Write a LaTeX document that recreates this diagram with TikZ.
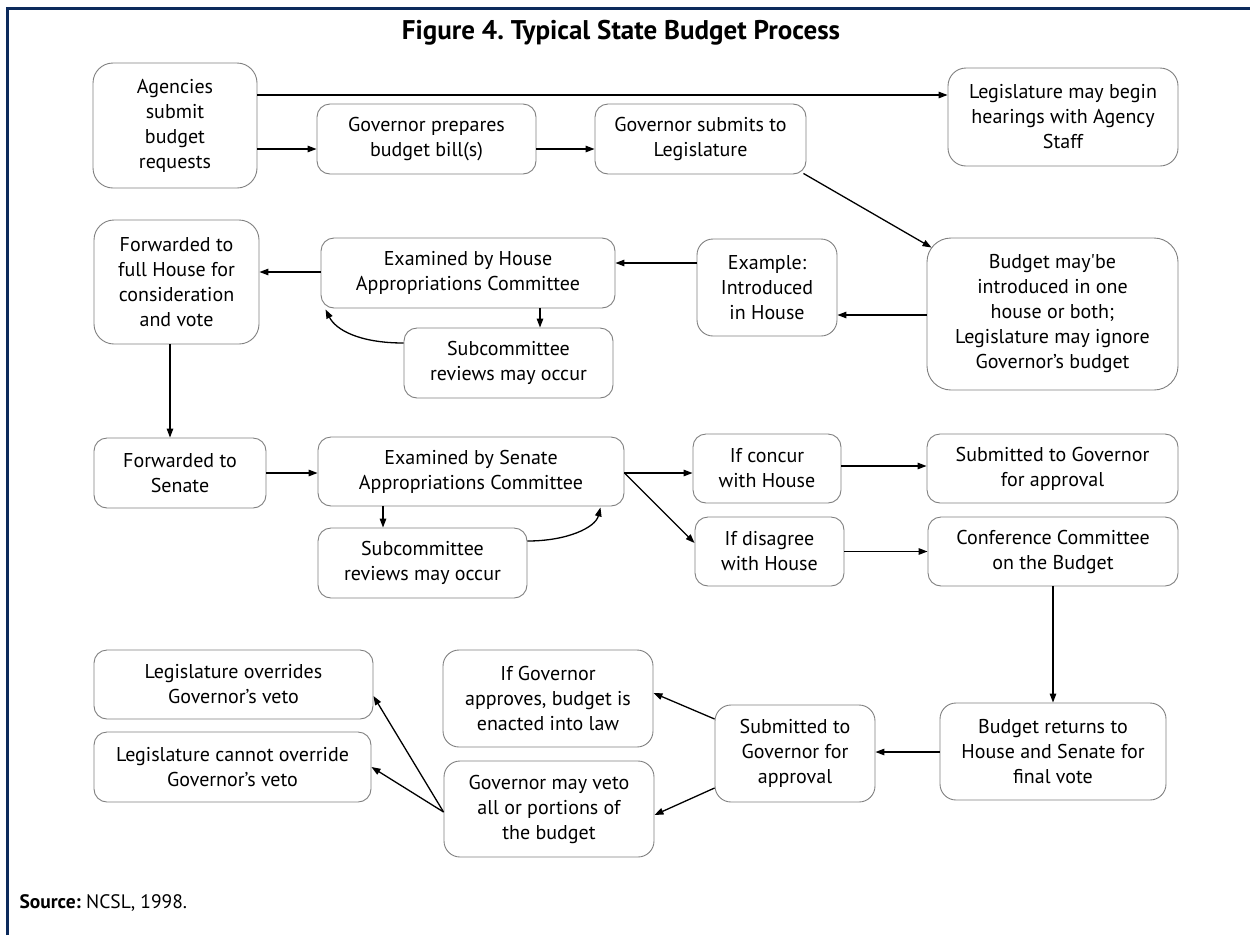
\documentclass[tikz,border=0pt]{standalone}
\usepackage{fontspec}
\setmainfont{PT Sans}
\usetikzlibrary{arrows.meta,calc}
\definecolor{boxgray}{RGB}{128,128,128}
\definecolor{navy}{RGB}{12,42,92}
\frenchspacing
\begin{document}
\begin{tikzpicture}[x=1pt,y=-1pt,
  box/.style={draw=boxgray,line width=0.9pt,rounded corners=13pt,align=center,inner sep=0pt,
    font=\fontsize{20}{25}\selectfont,text=black},
  arr/.style={line width=1.3pt,-{Triangle[length=9pt,width=6.5pt]}}]
\useasboundingbox[fill=white] (0,0) rectangle (1250,935);
\draw[navy,line width=3pt] (7,935) -- (7,8) -- (1250,8);

\node[font=\fontsize{27}{30}\selectfont\bfseries] (title) at (621,33) {Figure 4. Typical State Budget Process};

% row 1
\node[box,rounded corners=20pt,minimum width=164pt,minimum height=125pt] (agen) at (175,125.5) {Agencies\\submit\\budget\\requests};
\node[box,rounded corners=18pt,minimum width=230pt,minimum height=98pt] (legb) at (1063,117) {Legislature may begin\\hearings with Agency\\Staff};
\node[box,minimum width=219pt,minimum height=70pt] (govp) at (426.5,139) {Governor prepares\\budget bill(s)};
\node[box,minimum width=211pt,minimum height=70pt] (govs) at (700.5,139) {Governor submits to\\Legislature};

% row 2
\node[box,rounded corners=20pt,minimum width=165pt,minimum height=124pt] (fwdh) at (176.5,282) {Forwarded to\\full House for\\consideration\\and vote};
\node[box,minimum width=294pt,minimum height=70pt] (exh) at (468,273) {Examined by House\\Appropriations Committee};
\node[box,minimum width=209pt,minimum height=70pt] (subh) at (508.5,363) {Subcommittee\\reviews may occur};
\node[box,rounded corners=16pt,minimum width=140pt,minimum height=97pt] (exam) at (767,287.5) {Example:\\Introduced\\in House};
\node[box,rounded corners=24pt,minimum width=251pt,minimum height=152pt] (budm) at (1052.5,314) {Budget may\textquotesingle be\\introduced in one\\house or both;\\Legislature may ignore\\Governor’s budget};

% row 3
\node[box,minimum width=172pt,minimum height=70pt] (fwds) at (180,473) {Forwarded to\\Senate};
\node[box,minimum width=306pt,minimum height=69pt] (exs) at (471,471.5) {Examined by Senate\\Appropriations Committee};
\node[box,minimum width=209pt,minimum height=70pt] (subs) at (422.5,563) {Subcommittee\\reviews may occur};
\node[box,minimum width=148pt,minimum height=69pt] (ifc) at (767,468.5) {If concur\\with House};
\node[box,minimum width=149pt,minimum height=69pt] (ifd) at (769.5,551.5) {If disagree\\with House};
\node[box,minimum width=251pt,minimum height=69pt] (subg) at (1052.5,468.5) {Submitted to Governor\\for approval};
\node[box,minimum width=250pt,minimum height=69pt] (conf) at (1053,551.5) {Conference Committee\\on the Budget};

% row 4
\node[box,minimum width=279pt,minimum height=69pt] (lov) at (233.5,684.5) {Legislature overrides\\Governor’s veto};
\node[box,minimum width=277pt,minimum height=70pt] (lco) at (232.5,767) {Legislature cannot override\\Governor’s veto};
\node[box,rounded corners=16pt,minimum width=210pt,minimum height=97pt] (iga) at (548,698.5) {If Governor\\approves, budget is\\enacted into law};
\node[box,rounded corners=16pt,minimum width=210pt,minimum height=96pt] (gvt) at (549,809) {Governor may veto\\all or portions of\\the budget};
\node[box,rounded corners=16pt,minimum width=160pt,minimum height=97pt] (subb) at (795,753.5) {Submitted to\\Governor for\\approval};
\node[box,rounded corners=16pt,minimum width=226pt,minimum height=97pt] (budr) at (1053,751.5) {Budget returns to\\House and Senate for\\final vote};

\node[anchor=west,font=\fontsize{19.5}{22}\selectfont] (src) at (16,903) {\textbf{Source:} NCSL, 1998.};

% connectors
\draw[arr] ([yshift=30.5pt]agen.east) -- ([yshift=30.5pt]agen.east -| legb.west);
\draw[arr] ([yshift=-10pt]govp.west -| agen.east) -- ([yshift=-10pt]govp.west);
\draw[arr] ([yshift=-10pt]govp.east) -- ([yshift=-10pt]govp.east -| govs.west);
\draw[arr] ([shift={(-3pt,1pt)}]govs.south east) -- ([shift={(5pt,-10pt)}]budm.north west);
\draw[arr] ([yshift=-1pt]budm.west) -- ([yshift=-1pt]budm.west -| exam.east);
\draw[arr] ([yshift=24.5pt]exam.west) -- ([yshift=24.5pt]exam.west -| exh.east);
\draw[arr] ([yshift=1pt]exh.west) -- ([yshift=1pt]exh.west -| fwdh.east);
\draw[arr] ([xshift=31.5pt]subh.north |- exh.south) -- ([xshift=31.5pt]subh.north);
\draw[arr] ([yshift=20pt]subh.west) .. controls +(-45,0) and +(10,20) .. ([shift={(5pt,-1pt)}]exh.south west);
\draw[arr] ([xshift=-6.5pt]fwdh.south) -- ([xshift=-6.5pt]fwdh.south |- fwds.north);
\draw[arr] (fwds.east) -- (fwds.east -| exs.west);
\draw[arr] ([yshift=-1.5pt]exs.east) -- ([yshift=-1.5pt]exs.east -| ifc.west);
\draw[arr] ([yshift=-1.5pt]exs.east) -- ([yshift=8.5pt]ifd.west);
\draw[arr] ([xshift=-39.5pt]subs.north |- exs.south) -- ([xshift=-39.5pt]subs.north);
\draw[arr] ([yshift=22pt]subs.east) .. controls +(40,0) and +(-5,20) .. ([shift={(-24pt,-1pt)}]exs.south east);
\draw[arr] ([yshift=2.5pt]ifc.east) -- ([yshift=2.5pt]ifc.east -| subg.west);
\draw[arr] (ifd.east) -- (ifd.east -| conf.west);
\draw[arr] (conf.south) -- (conf.south |- budr.north);
\draw[arr] ([yshift=-0.5pt]budr.west) -- ([yshift=-0.5pt]budr.west -| subb.east);
\draw[arr] ([yshift=34.5pt]subb.west) -- ([yshift=5.5pt]iga.east);
\draw[arr] ([yshift=-34.5pt]subb.west) -- ([yshift=-6pt]gvt.east);
\draw[arr] ([yshift=-3pt]gvt.west) -- ([yshift=-11.5pt]lov.east);
\draw[arr] ([yshift=-3pt]gvt.west) -- (lco.east);
\end{tikzpicture}
\end{document}
